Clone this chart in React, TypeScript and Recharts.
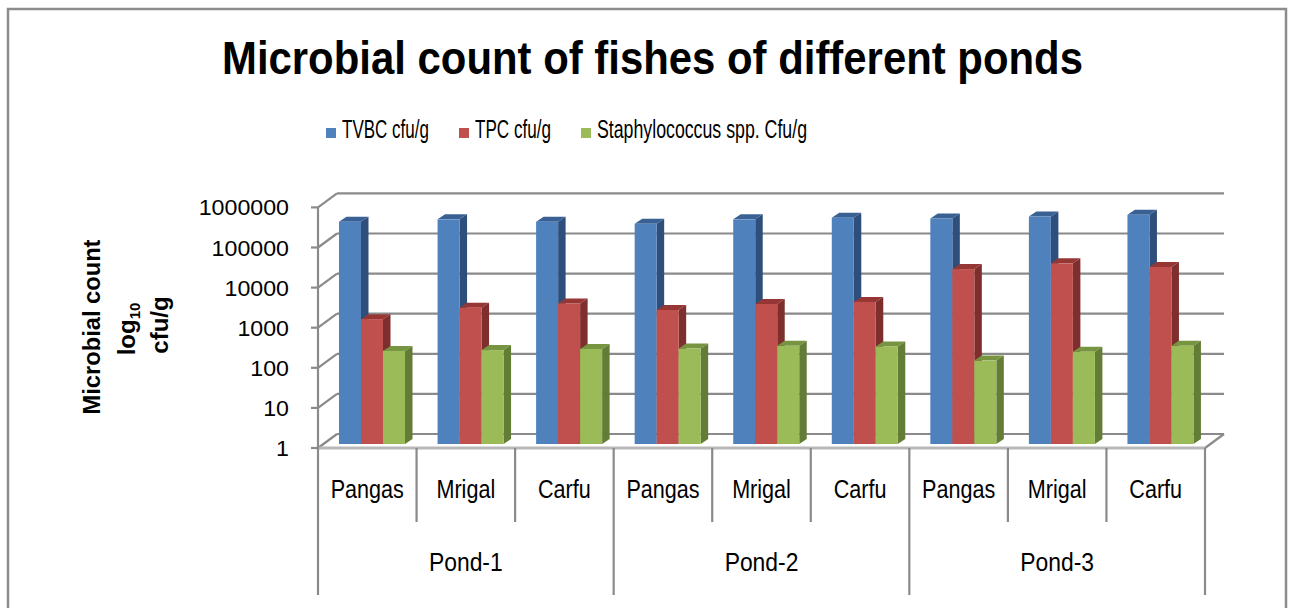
import React from "react";
import { BarChart, Bar, XAxis, YAxis, CartesianGrid } from "recharts";

const fishes = ["Pangas", "Mrigal", "Carfu", "Pangas", "Mrigal", "Carfu", "Pangas", "Mrigal", "Carfu"];
const ponds = ["Pond-1", "Pond-2", "Pond-3"];
const tvbc = [350000, 400000, 350000, 310000, 400000, 440000, 420000, 470000, 520000];
const tpc = [1300, 2500, 3200, 2200, 3100, 3500, 23000, 32000, 26000];
const staph = [210, 220, 235, 240, 280, 270, 120, 200, 280];
const yTicks = [1, 10, 100, 1000, 10000, 100000, 1000000];

const seriesNames = ["TVBC cfu/g", "TPC cfu/g", "Staphylococcus spp. Cfu/g"];

const data = fishes.map((fish, i) => ({
  fish,
  pond: ponds[Math.floor(i / 3)],
  tvbc: tvbc[i],
  tpc: tpc[i],
  staph: staph[i],
}));

// layout
const W = 1294;
const H = 608;
const PLOT_LEFT = 323;
const PLOT_RIGHT = 1210;
const PLOT_TOP = 203.4;
const PLOT_BOTTOM = 444;
const Y_AXIS_W = 60;
const X_AXIS_H = 30;
const CAT_W = (PLOT_RIGHT - PLOT_LEFT) / fishes.length;

// 3d offsets from the bar plane
const FRONT = { dx: -5, dy: 4 };
const BACK = { dx: 14, dy: -10 };
const DEPTH = { dx: 7.5, dy: -5 };

const FONT = "'Liberation Sans', Arial, sans-serif";
const GRID = "#8a8a8a";

const colors = [
  { front: "#4F81BD", top: "#3A6194", side: "#2E4F7B" },
  { front: "#C0504D", top: "#963735", side: "#7E2E2C" },
  { front: "#9BBB59", top: "#779441", side: "#647D36" },
];

const legendLayout = [
  { x: 326, w: 87 },
  { x: 459, w: 76 },
  { x: 581, w: 210 },
];

// condensed-looking text (no narrow font installed)
function NText({ x, y, sx = 0.83, size = 26, children }: any) {
  return (
    <text
      transform={`translate(${x},${y}) scale(${sx},1)`}
      textAnchor="middle"
      fontFamily={FONT}
      fontSize={size}
      fill="#000"
    >
      {children}
    </text>
  );
}

function make3dBar(c: { front: string; top: string; side: string }) {
  return (props: any) => {
    const { x, y, width, height } = props;
    if (width == null || height == null) return <g />;
    const { dx, dy } = DEPTH;
    return (
      <g>
        <polygon
          points={`${x},${y} ${x + dx},${y + dy} ${x + width + dx},${y + dy} ${x + width},${y}`}
          fill={c.top}
        />
        <polygon
          points={`${x + width},${y} ${x + width + dx},${y + dy} ${x + width + dx},${y + height + dy} ${x + width},${y + height}`}
          fill={c.side}
        />
        <rect x={x} y={y} width={width} height={height} fill={c.front} />
      </g>
    );
  };
}

function gridLine(props: any) {
  const { y1, x1, x2, index } = props;
  const fy = y1 + FRONT.dy;
  const fx = x1 + FRONT.dx;
  const by = y1 + BACK.dy;
  const bx = x1 + BACK.dx;
  const isFloor = Math.abs(y1 - PLOT_BOTTOM) < 1;
  return (
    <g key={`g-${index}`}>
      <line x1={fx} y1={fy} x2={bx} y2={by} stroke={GRID} strokeWidth={2.2} />
      <line x1={bx} y1={by} x2={x2 + BACK.dx} y2={by} stroke={GRID} strokeWidth={2.2} />
      {isFloor && (
        <g>
          <line x1={x2 + FRONT.dx} y1={fy} x2={x2 + BACK.dx} y2={by} stroke={GRID} strokeWidth={2.2} />
          <line x1={fx} y1={fy} x2={x2 + FRONT.dx} y2={fy} stroke="#b8b8b8" strokeWidth={3} />
        </g>
      )}
    </g>
  );
}

function YTick(props: any) {
  const { y, payload } = props;
  const fy = y + FRONT.dy;
  const fx = PLOT_LEFT + FRONT.dx;
  const label = String(payload.value);
  const isBottom = Math.abs(y - PLOT_BOTTOM) < 1;
  const step = (PLOT_BOTTOM - PLOT_TOP) / (yTicks.length - 1);
  return (
    <g>
      <line x1={fx - 7} y1={fy} x2={fx} y2={fy} stroke={GRID} strokeWidth={2.2} />
      {!isBottom && <line x1={fx} y1={fy} x2={fx} y2={fy + step} stroke={GRID} strokeWidth={2.2} />}
      <text
        x={289}
        y={fy + 8}
        textAnchor="end"
        fontFamily={FONT}
        fontSize={22}
        textLength={label.length * 12.9}
        lengthAdjust="spacingAndGlyphs"
        fill="#000"
      >
        {label}
      </text>
    </g>
  );
}

function XTick(props: any) {
  const { x, payload } = props;
  const index = payload.index ?? props.index;
  const cx = x + FRONT.dx;
  const left = cx - CAT_W / 2;
  const right = cx + CAT_W / 2;
  const top = PLOT_BOTTOM + FRONT.dy;
  const isPondEdge = index % 3 === 0;
  return (
    <g>
      <line x1={left} y1={top} x2={left} y2={isPondEdge ? 595 : 522} stroke={GRID} strokeWidth={2.2} />
      {index === fishes.length - 1 && (
        <line x1={right} y1={top} x2={right} y2={595} stroke={GRID} strokeWidth={2.2} />
      )}
      <NText x={cx} y={498} sx={0.83}>
        {payload.value}
      </NText>
      {index % 3 === 1 && (
        <NText x={cx} y={571} sx={0.88}>
          {data[index].pond}
        </NText>
      )}
    </g>
  );
}

export default function App() {
  return (
    <div style={{ position: "absolute", left: 0, top: 0, width: W, height: H, background: "#fff" }}>
      <BarChart
        width={W}
        height={H}
        data={data}
        margin={{
          top: PLOT_TOP,
          right: W - PLOT_RIGHT,
          bottom: H - PLOT_BOTTOM - X_AXIS_H,
          left: PLOT_LEFT - Y_AXIS_W,
        }}
        barGap={0}
        barSize={22}
      >
        <CartesianGrid vertical={false} horizontal={gridLine} />
        <XAxis
          dataKey="fish"
          height={X_AXIS_H}
          axisLine={false}
          tickLine={false}
          interval={0}
          tick={<XTick />}
        />
        <YAxis
          width={Y_AXIS_W}
          scale="log"
          domain={[1, 1000000]}
          ticks={yTicks}
          allowDataOverflow
          axisLine={false}
          tickLine={false}
          tick={<YTick />}
        />
        <Bar dataKey="tvbc" name={seriesNames[0]} fill={colors[0].front} shape={make3dBar(colors[0])} isAnimationActive={false} />
        <Bar dataKey="tpc" name={seriesNames[1]} fill={colors[1].front} shape={make3dBar(colors[1])} isAnimationActive={false} />
        <Bar dataKey="staph" name={seriesNames[2]} fill={colors[2].front} shape={make3dBar(colors[2])} isAnimationActive={false} />
      </BarChart>
      <svg
        width={W}
        height={H}
        style={{ position: "absolute", left: 0, top: 0, pointerEvents: "none" }}
      >
        <rect x={8} y={9} width={1278} height={620} fill="none" stroke="#8c8c8c" strokeWidth={2.5} />
        <text
          x={652.5}
          y={74}
          textAnchor="middle"
          fontFamily={FONT}
          fontWeight="bold"
          fontSize={46}
          textLength={861}
          lengthAdjust="spacingAndGlyphs"
        >
          Microbial count of fishes of different ponds
        </text>
        {seriesNames.map((name, i) => (
          <g key={name}>
            <rect x={legendLayout[i].x} y={128} width={10} height={10} fill={colors[i].front} />
            <text
              x={legendLayout[i].x + 16}
              y={138}
              fontFamily={FONT}
              fontSize={26}
              textLength={legendLayout[i].w}
              lengthAdjust="spacingAndGlyphs"
            >
              {name}
            </text>
          </g>
        ))}
        <g fontFamily={FONT} fontWeight="bold" fontSize={24}>
          <text x={100} y={327} transform="rotate(-90 100 327)" textAnchor="middle" textLength={175} lengthAdjust="spacingAndGlyphs">
            Microbial count
          </text>
          <text x={135} y={329} transform="rotate(-90 135 329)" textAnchor="middle">
            log<tspan fontSize={15} dy={5}>10</tspan>
          </text>
          <text x={168} y={325} transform="rotate(-90 168 325)" textAnchor="middle">
            cfu/g
          </text>
        </g>
      </svg>
    </div>
  );
}
